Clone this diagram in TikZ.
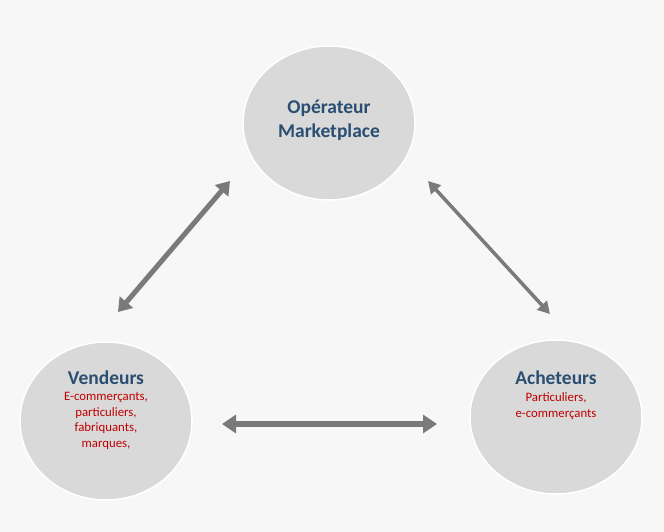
\documentclass[tikz,border=0pt]{standalone}
\usepackage{fontspec}
\setmainfont{Carlito}
\usetikzlibrary{arrows.meta,shapes.geometric}
\definecolor{bg}{HTML}{F7F7F7}
\definecolor{disk}{HTML}{D9D9D9}
\definecolor{titleblue}{HTML}{2A4E72}
\definecolor{subred}{HTML}{C00000}
\definecolor{arrowgray}{HTML}{7A7A7A}
\tikzset{
  blob/.style={ellipse, fill=disk, draw=white, line width=1.5pt, minimum width=#1},
  title/.style={font=\bfseries\fontsize{19.5}{24}\selectfont, text=titleblue, align=center},
  sub/.style={font=\fontsize{12.8}{15.6}\selectfont, text=subred, align=center},
}
\begin{document}
\begin{tikzpicture}[x=1pt,y=-1pt]
\fill[bg] (0,0) rectangle (664,532);
\useasboundingbox (0,0) rectangle (664,532);
\node[blob=172pt, minimum height=154pt] (op) at (329,123) {};
\node[blob=172pt, minimum height=158pt] (ve) at (106,421) {};
\node[blob=172pt, minimum height=154pt] (ac) at (556,417) {};
\node[title] (opt) at (329,120) {Opérateur\\Marketplace};
\node[title] (vet) at (106,378) {Vendeurs};
\node[sub, anchor=north] (ves) at (106,389) {E-commerçants,\\particuliers,\\fabriquants,\\marques,};
\node[title] (act) at (556,378) {Acheteurs};
\node[sub, anchor=north] (acs) at (556,389) {Particuliers,\\e-commerçants};
\coordinate (a1) at (118,312);
\coordinate (a2) at (230,181);
\coordinate (b1) at (428,181);
\coordinate (b2) at (550,314);
\coordinate (c1) at (222,424);
\coordinate (c2) at (437,424);
\draw[draw=arrowgray, line width=5pt, {Triangle[length=13pt,width=17pt]}-{Triangle[length=13pt,width=17pt]}] (a1) -- (a2);
\draw[draw=arrowgray, line width=3.5pt, {Triangle[length=12pt,width=13pt]}-{Triangle[length=12pt,width=13pt]}] (b1) -- (b2);
\draw[draw=arrowgray, line width=6pt, {Triangle[length=14pt,width=18pt]}-{Triangle[length=14pt,width=18pt]}] (c1) -- (c2);
\end{tikzpicture}
\end{document}
